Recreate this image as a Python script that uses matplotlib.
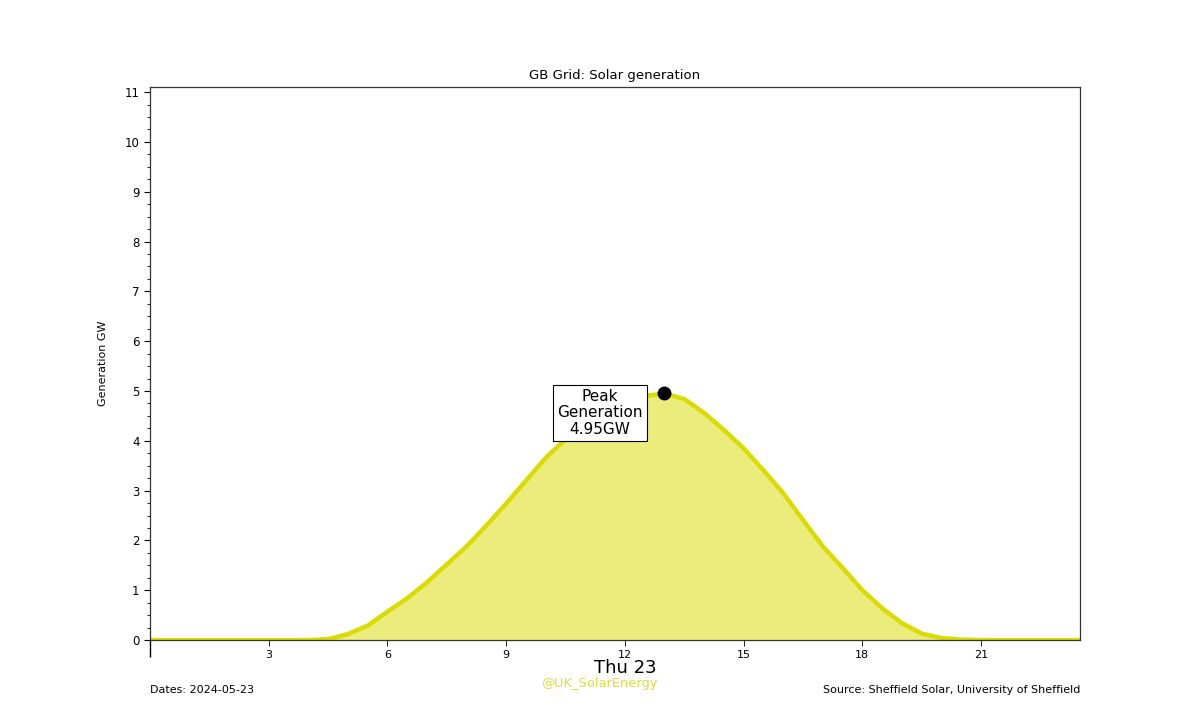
import matplotlib
matplotlib.use("Agg")
import matplotlib.pyplot as plt
from matplotlib.ticker import MultipleLocator, FixedLocator, NullFormatter

# Half-hourly settlement times (hours) and generation (GW)
hours = [0.0, 0.5, 1.0, 1.5, 2.0, 2.5, 3.0, 3.5, 4.0, 4.5, 5.0, 5.5,
         6.0, 6.5, 7.0, 7.5, 8.0, 8.5, 9.0, 9.5, 10.0, 10.5, 11.0, 11.5,
         12.0, 12.5, 13.0, 13.5, 14.0, 14.5, 15.0, 15.5, 16.0, 16.5, 17.0, 17.5,
         18.0, 18.5, 19.0, 19.5, 20.0, 20.5, 21.0, 21.5, 22.0, 22.5, 23.0, 23.5]
generation = [0.0, 0.0, 0.0, 0.0, 0.0, 0.0, 0.0, 0.0, 0.0, 0.02, 0.12, 0.29,
              0.57, 0.84, 1.16, 1.52, 1.88, 2.3, 2.74, 3.2, 3.66, 4.03, 4.38, 4.64,
              4.82, 4.9, 4.95, 4.84, 4.56, 4.22, 3.85, 3.41, 2.95, 2.41, 1.88, 1.45,
              1.0, 0.64, 0.34, 0.13, 0.04, 0.01, 0.0, 0.0, 0.0, 0.0, 0.0, 0.0]
peak_hour = 13.0
peak_value = 4.95
hour_ticks = [3, 6, 9, 12, 15, 18, 21]
hour_labels = ["3", "6", "9", "12", "15", "18", "21"]

line_color = "#d9dc00"
fill_color = "#ecec7c"

fig = plt.figure(figsize=(12, 7.2), dpi=100)
ax = fig.add_axes([0.125, 0.111, 0.775, 0.768])

ax.fill_between(hours, generation, 0, color=fill_color, lw=0, zorder=1)
ax.plot(hours, generation, color=line_color, lw=3.2, zorder=2,
        solid_joinstyle="round", solid_capstyle="round")
ax.plot([peak_hour], [peak_value], "o", color="black", ms=9, zorder=4)

ax.text(11.37, 4.56, f"Peak\nGeneration\n{peak_value:.2f}GW", ha="center", va="center",
        fontsize=11, linespacing=1.1, zorder=5,
        bbox=dict(boxstyle="square,pad=0.3", facecolor="white", edgecolor="black", lw=0.8))

ax.set_xlim(0, 23.5)
ax.set_ylim(0, 11.1)

ax.xaxis.set_major_locator(FixedLocator([0]))
ax.xaxis.set_major_formatter(NullFormatter())
ax.xaxis.set_minor_locator(FixedLocator(hour_ticks))
ax.set_xticklabels(hour_labels, minor=True)
ax.tick_params(axis="x", which="major", length=12, width=1)
ax.tick_params(axis="x", which="minor", length=4, labelsize=8, pad=3)

ax.yaxis.set_major_locator(MultipleLocator(1))
ax.yaxis.set_minor_locator(MultipleLocator(0.25))
ax.tick_params(axis="y", which="major", length=4, labelsize=8.5)
ax.tick_params(axis="y", which="minor", length=2)

for s in ax.spines.values():
    s.set_linewidth(0.9)
    s.set_color("#333333")

ax.set_title("GB Grid: Solar generation", fontsize=9.5, pad=6)
ax.set_ylabel("Generation GW", fontsize=8, labelpad=12)

fig.text(625 / 1200, 1 - 668 / 720, "Thu 23", ha="center", va="center", fontsize=13)
fig.text(599 / 1200, 1 - 684 / 720, "@UK_SolarEnergy", ha="center", va="center",
         fontsize=9.4, color="#dcdc3c")
fig.text(150 / 1200, 1 - 690 / 720, "Dates: 2024-05-23", ha="left", va="center", fontsize=8)
fig.text(1080 / 1200, 1 - 690 / 720, "Source: Sheffield Solar, University of Sheffield",
         ha="right", va="center", fontsize=8)

fig.savefig("out.png", dpi=100)
